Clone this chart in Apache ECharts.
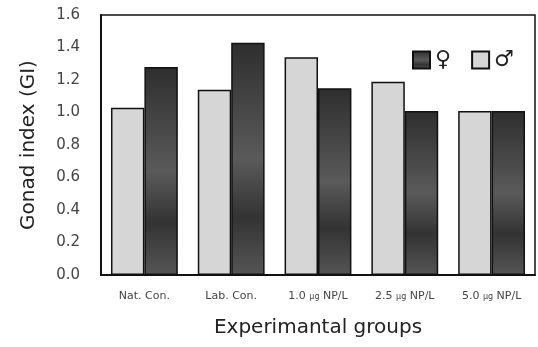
<!DOCTYPE html>
<html>
<head>
<meta charset="utf-8">
<script src="https://cdn.jsdelivr.net/npm/echarts@6/dist/echarts.min.js"></script>
<style>
  html, body { margin: 0; padding: 0; background: #fff; }
  #chart { width: 538px; height: 347px; }
</style>
</head>
<body>
<div id="chart"></div>
<script>
var groups = ['Nat. Con.', 'Lab. Con.', '1.0 μg NP/L', '2.5 μg NP/L', '5.0 μg NP/L']
var male = [1.03, 1.14, 1.34, 1.19, 1.01]
var female = [1.28, 1.43, 1.15, 1.01, 1.01]
var yTicks = [0, 0.2, 0.4, 0.6, 0.8, 1.0, 1.2, 1.4, 1.6]

var chart = echarts.init(document.getElementById('chart'))
var option = {
    animation: false,
    grid: {left: 101, right: 3, top: 15, bottom: 72},
    legend: {
        data: ['♀', '♂'],
        left: 407,
        top: 44,
        icon: 'rect',
        itemWidth: 17,
        itemHeight: 17,
        itemGap: 20,
        textStyle: {fontSize: 22, color: '#222', fontFamily: 'DejaVu Sans'}
    },
    xAxis: {
        type: 'category',
        data: groups,
        name: 'Experimantal groups',
        nameLocation: 'middle',
        nameGap: 43,
        nameTextStyle: {fontSize: 20, color: '#222', fontFamily: 'DejaVu Sans'},
        axisLine: {lineStyle: {color: '#111', width: 2}},
        axisTick: {show: false},
        axisLabel: {
            fontSize: 11,
            color: '#444',
            margin: 16,
            interval: 0,
            fontFamily: 'DejaVu Sans',
            formatter: function (v) {
                return v.replace('μg', '{u|μg}')
            },
            rich: {u: {fontSize: 8, color: '#444'}}
        }
    },
    yAxis: {
        type: 'value',
        min: 0,
        max: 1.6,
        interval: 0.2,
        name: 'Gonad index (GI)',
        nameLocation: 'middle',
        nameGap: 62,
        nameTextStyle: {fontSize: 20, color: '#222', fontFamily: 'DejaVu Sans'},
        axisLine: {show: true, lineStyle: {color: '#111', width: 2}},
        axisTick: {show: false},
        axisLabel: {
            fontSize: 15,
            color: '#444',
            margin: 21,
            fontFamily: 'DejaVu Sans',
            formatter: function (v) {
                return yTicks.indexOf(Math.round(v * 10) / 10) >= 0 ? v.toFixed(1) : ''
            }
        },
        splitLine: {show: false}
    },
    graphic: [{
        type: 'rect',
        shape: {x: 101, y: 15, width: 434, height: 260},
        style: {fill: 'none', stroke: '#111', lineWidth: 1.5},
        silent: true
    }],
    series: [
        {
            name: '♂',
            type: 'bar',
            data: male,
            barGap: 0,
            barCategoryGap: '23%',
            itemStyle: {color: '#d6d6d6', borderColor: '#111', borderWidth: 1.5}
        },
        {
            name: '♀',
            type: 'bar',
            data: female,
            itemStyle: {
                color: new echarts.graphic.LinearGradient(0, 0, 0, 1, [
                    {offset: 0, color: '#2e2e2e'},
                    {offset: 0.5, color: '#5a5a5a'},
                    {offset: 0.75, color: '#333'},
                    {offset: 1, color: '#555'}
                ]),
                borderColor: '#111',
                borderWidth: 1.5
            }
        }
    ]
}
chart.setOption(option)
</script>
</body>
</html>
